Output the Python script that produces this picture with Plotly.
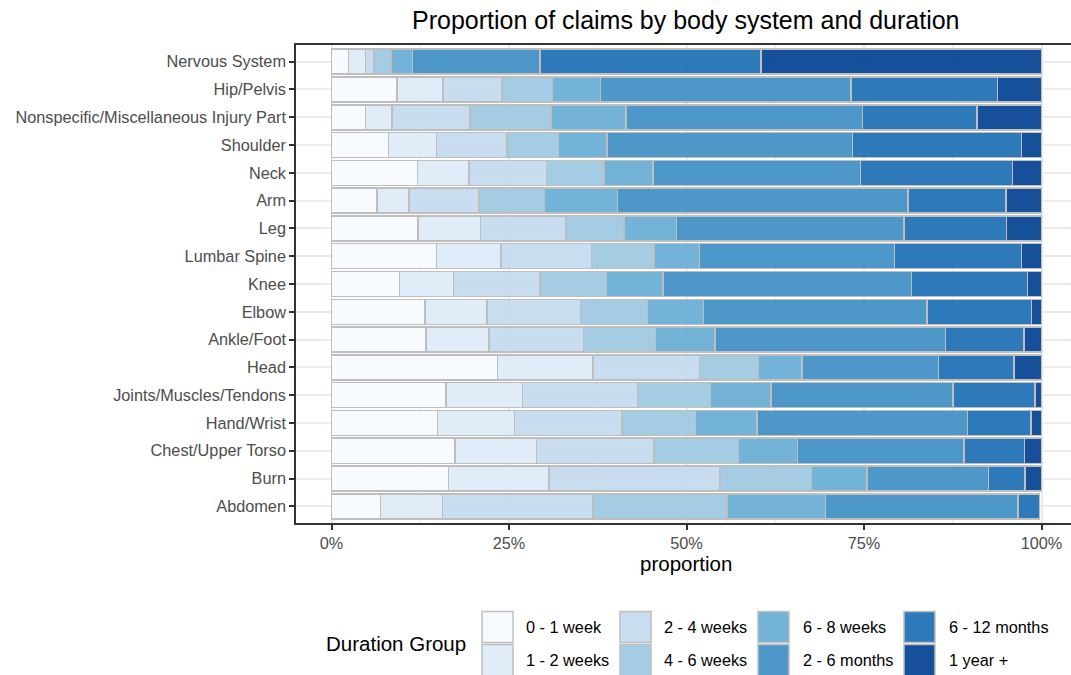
import plotly.graph_objects as go

categories = [
    "Nervous System", "Hip/Pelvis", "Nonspecific/Miscellaneous Injury Part",
    "Shoulder", "Neck", "Arm", "Leg", "Lumbar Spine", "Knee", "Elbow",
    "Ankle/Foot", "Head", "Joints/Muscles/Tendons", "Hand/Wrist",
    "Chest/Upper Torso", "Burn", "Abdomen",
]

groups = ["0 - 1 week", "1 - 2 weeks", "2 - 4 weeks", "4 - 6 weeks",
          "6 - 8 weeks", "2 - 6 months", "6 - 12 months", "1 year +"]

# percentage of claims per duration group, in category order above
wk_0_1   = [2.4, 9.2, 4.8, 8.0, 12.1, 6.4, 12.2, 14.8, 9.6, 13.2, 13.3, 23.4, 16.1, 14.9, 17.4, 16.5, 6.9]
wk_1_2   = [2.4, 6.5, 3.7, 6.8, 7.3, 4.5, 8.8, 9.1, 7.6, 8.7, 8.9, 13.4, 10.8, 10.9, 11.5, 14.1, 8.7]
wk_2_4   = [1.2, 8.3, 11.0, 9.9, 10.9, 9.9, 12.0, 12.8, 12.2, 13.2, 13.3, 15.0, 16.2, 15.1, 16.5, 24.1, 21.2]
wk_4_6   = [2.4, 7.1, 11.4, 7.3, 8.1, 9.2, 8.2, 8.7, 9.3, 9.4, 10.1, 8.3, 10.3, 10.4, 11.9, 12.9, 18.9]
wk_6_8   = [3.0, 6.8, 10.6, 6.8, 6.9, 10.3, 7.4, 6.4, 8.0, 7.9, 8.4, 6.2, 8.5, 8.6, 8.3, 7.8, 13.9]
mo_2_6   = [18.0, 35.3, 33.3, 34.6, 29.2, 40.9, 32.0, 27.5, 35.0, 31.5, 32.5, 19.2, 25.6, 29.7, 23.5, 17.1, 27.1]
mo_6_12  = [31.1, 20.6, 16.1, 23.8, 21.4, 13.8, 14.5, 17.9, 16.3, 14.7, 11.0, 10.6, 11.6, 8.9, 8.5, 5.2, 3.0]
yr_1plus = [39.5, 6.2, 9.1, 2.8, 4.1, 5.0, 4.9, 2.8, 2.0, 1.4, 2.5, 3.9, 0.9, 1.5, 2.4, 2.3, None]

series = [wk_0_1, wk_1_2, wk_2_4, wk_4_6, wk_6_8, mo_2_6, mo_6_12, yr_1plus]

palette = ["#F7FBFF", "#DEEBF7", "#C6DBEF", "#9ECAE1",
           "#6BAED6", "#4292C6", "#2171B5", "#084594"]
ALPHA = 0.94


def rgba(h, a=ALPHA):
    h = h.lstrip("#")
    r, g, b = int(h[0:2], 16), int(h[2:4], 16), int(h[4:6], 16)
    return f"rgba({r},{g},{b},{a})"


FONT = "Liberation Sans"
W, H = 1071, 675
L, R_EDGE = 296, 1071
T, B = 45.35, 522.6
PW, PH = R_EDGE - L, B - T


def px(x):
    return (x - L) / PW


def py(y):
    return (B - y) / PH


fig = go.Figure()
for name, vals, col in zip(groups, series, palette):
    fig.add_trace(go.Bar(
        y=categories,
        x=[v / 100 if v is not None else None for v in vals],
        name=name,
        orientation="h",
        marker=dict(color=rgba(col), line=dict(color="#BEBEBE", width=1.5)),
        showlegend=False,
        hovertemplate="%{y}<br>" + name + ": %{x:.1%}<extra></extra>",
    ))

x0_px = 331.5
scale = 710.0
xmin = (L - x0_px) / scale
xmax = (R_EDGE - x0_px) / scale

fig.update_layout(
    width=W, height=H,
    barmode="stack", bargap=0.1,
    paper_bgcolor="white", plot_bgcolor="white",
    margin=dict(l=L, r=W - R_EDGE, t=T, b=H - B, pad=0),
    font=dict(family=FONT, color="black"),
    xaxis=dict(
        range=[xmin, xmax], tickvals=[0, 0.25, 0.5, 0.75, 1.0],
        tickformat=".0%",
        tickfont=dict(size=16.3, color="#4D4D4D"),
        ticks="outside", ticklen=5, tickwidth=1.5, tickcolor="#333333",
        showgrid=True, gridcolor="#EBEBEB", gridwidth=2,
        minor=dict(tickvals=[0.125, 0.375, 0.625, 0.875], showgrid=True,
                   gridcolor="#EBEBEB", gridwidth=1, ticks=""),
        showline=True, linecolor="#333333", linewidth=1.5, mirror=True,
        zeroline=False, fixedrange=True,
    ),
    yaxis=dict(
        type="category", categoryorder="array", categoryarray=categories,
        range=[len(categories) - 0.4, -0.6],
        tickfont=dict(size=16.3, color="#4D4D4D"),
        ticks="outside", ticklen=5, tickwidth=1.5, tickcolor="#333333",
        showgrid=True, gridcolor="#EBEBEB", gridwidth=2,
        showline=True, linecolor="#333333", linewidth=1.5, mirror=False,
        zeroline=False, fixedrange=True,
    ),
)

annotations = [
    dict(text="Proportion of claims by body system and duration",
         x=px(686), y=py(20), xref="paper", yref="paper",
         xanchor="center", yanchor="middle", showarrow=False,
         font=dict(size=25, color="black", family=FONT)),
    dict(text="proportion", x=px(686), y=py(563), xref="paper", yref="paper",
         xanchor="center", yanchor="middle", showarrow=False,
         font=dict(size=20.5, color="black", family=FONT)),
    dict(text="Duration Group", x=px(324), y=py(643), xref="paper", yref="paper",
         xanchor="left", yanchor="middle", showarrow=False,
         font=dict(size=20.5, color="black", family=FONT)),
]

shapes = []
key_x = [482, 620, 758, 904]
text_x = [524, 662, 800.5, 947]
row_y = [(611, 642), (644, 675)]
for i, (name, col) in enumerate(zip(groups, palette)):
    c, r = divmod(i, 2)
    y0, y1 = row_y[r]
    shapes.append(dict(type="rect", xref="paper", yref="paper",
                       x0=px(key_x[c]), x1=px(key_x[c] + 31),
                       y0=py(y1), y1=py(y0),
                       fillcolor=rgba(col), line=dict(color="#BEBEBE", width=1.5),
                       layer="above"))
    annotations.append(dict(text=name, x=px(text_x[c]), y=py((y0 + y1) / 2),
                            xref="paper", yref="paper", xanchor="left",
                            yanchor="middle", showarrow=False,
                            font=dict(size=16.3, color="black", family=FONT)))

fig.update_layout(annotations=annotations, shapes=shapes)

fig.write_html(
    "out.html",
    config={"displayModeBar": False},
    post_script="document.body.style.margin='0';document.body.style.overflow='hidden';",
)
